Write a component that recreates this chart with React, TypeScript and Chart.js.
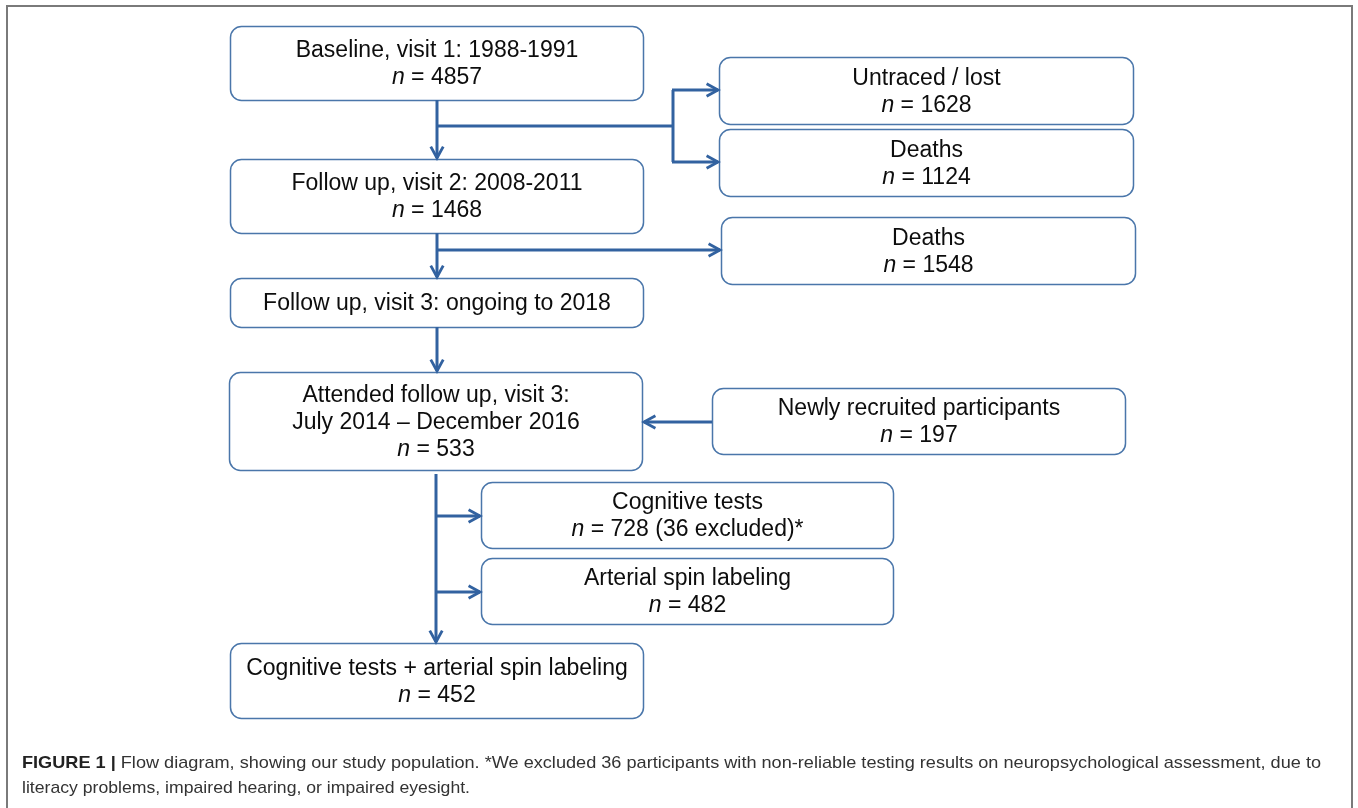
import React, { useEffect, useRef } from "react";
import { Chart, registerables } from "chart.js";

Chart.register(...registerables);

// ---- content (data) ----
const boxTitles: string[][] = [
  ["Baseline, visit 1: 1988-1991"],
  ["Follow up, visit 2: 2008-2011"],
  ["Untraced / lost"],
  ["Deaths"],
  ["Deaths"],
  ["Follow up, visit 3: ongoing to 2018"],
  ["Attended follow up, visit 3:", "July 2014 \u2013 December 2016"],
  ["Newly recruited participants"],
  ["Cognitive tests"],
  ["Arterial spin labeling"],
  ["Cognitive tests + arterial spin labeling"],
];
const boxCounts: (string | null)[] = [
  "4857", "1468", "1628", "1124", "1548", null, "533", "197", "728 (36 excluded)*", "482", "452",
];
const captionBold = "FIGURE 1 |";
const captionLine1 =
  " Flow diagram, showing our study population. *We excluded 36 participants with non-reliable testing results on neuropsychological assessment, due to";
const captionLine2 = "literacy problems, impaired hearing, or impaired eyesight.";

// ---- layout (positions in chart units = px) ----
const boxX0 = [230, 230, 719, 719, 721, 230, 229, 712, 481, 481, 230];
const boxX1 = [643, 643, 1133, 1133, 1135, 643, 642, 1125, 893, 893, 643];
const boxY0 = [26, 159, 57, 129, 217, 278, 372, 388, 482, 558, 643];
const boxY1 = [100, 233, 124, 196, 284, 327, 470, 454, 548, 624, 718];

// connectors: [x, y] pairs; arrow = arrowhead at last point
const connectors: { pts: number[][]; arrow: boolean }[] = [
  { pts: [[437, 100], [437, 158]], arrow: true },
  { pts: [[437, 126], [673, 126]], arrow: false },
  { pts: [[673, 90], [673, 162]], arrow: false },
  { pts: [[672, 90], [718, 90]], arrow: true },
  { pts: [[672, 162], [718, 162]], arrow: true },
  { pts: [[437, 233], [437, 277]], arrow: true },
  { pts: [[437, 250], [720, 250]], arrow: true },
  { pts: [[437, 327], [437, 371]], arrow: true },
  { pts: [[712, 422], [644, 422]], arrow: true },
  { pts: [[436, 474], [436, 642]], arrow: true },
  { pts: [[436, 516], [480, 516]], arrow: true },
  { pts: [[436, 592], [480, 592]], arrow: true },
];

const W = 1358;
const H = 808;
const FONT = '"Liberation Sans", Arial, Helvetica, sans-serif';
const BOX_COLOR = "#4a76aa";
const LINE_COLOR = "#3262a0";

function roundRect(ctx: CanvasRenderingContext2D, x0: number, y0: number, x1: number, y1: number, r: number) {
  ctx.beginPath();
  ctx.moveTo(x0 + r, y0);
  ctx.lineTo(x1 - r, y0);
  ctx.arcTo(x1, y0, x1, y0 + r, r);
  ctx.lineTo(x1, y1 - r);
  ctx.arcTo(x1, y1, x1 - r, y1, r);
  ctx.lineTo(x0 + r, y1);
  ctx.arcTo(x0, y1, x0, y1 - r, r);
  ctx.lineTo(x0, y0 + r);
  ctx.arcTo(x0, y0, x0 + r, y0, r);
  ctx.closePath();
}

const flowPlugin = {
  id: "flow",
  afterDatasetsDraw(chart: any) {
    const ctx: CanvasRenderingContext2D = chart.ctx;
    const xs = chart.scales.x;
    const ys = chart.scales.y;
    const px = (v: number) => xs.getPixelForValue(v);
    const py = (v: number) => ys.getPixelForValue(v);
    ctx.save();

    // outer frame
    ctx.strokeStyle = "#7a7a7a";
    ctx.lineWidth = 2;
    ctx.strokeRect(px(7), py(6), px(1352) - px(7), py(840) - py(6));

    // boxes
    for (let i = 0; i < boxTitles.length; i++) {
      const x0 = px(boxX0[i]) + 0.5, x1 = px(boxX1[i]) + 0.5;
      const y0 = py(boxY0[i]) + 0.5, y1 = py(boxY1[i]) + 0.5;
      roundRect(ctx, x0, y0, x1, y1, 11);
      ctx.fillStyle = "#ffffff";
      ctx.fill();
      ctx.strokeStyle = BOX_COLOR;
      ctx.lineWidth = 1.5;
      ctx.stroke();

      const lines: { t: string; n: boolean }[] = boxTitles[i].map((t) => ({ t, n: false }));
      if (boxCounts[i] !== null) lines.push({ t: " = " + boxCounts[i], n: true });
      const lh = 27;
      const cx = (x0 + x1) / 2;
      const cy = (y0 + y1) / 2;
      const top = cy - ((lines.length - 1) * lh) / 2;
      ctx.fillStyle = "#0d0d0d";
      ctx.textBaseline = "middle";
      lines.forEach((ln, k) => {
        const y = top + k * lh + 1;
        if (!ln.n) {
          ctx.font = `23px ${FONT}`;
          ctx.textAlign = "center";
          ctx.fillText(ln.t, cx, y);
        } else {
          ctx.font = `italic 23px ${FONT}`;
          const wn = ctx.measureText("n").width;
          ctx.font = `23px ${FONT}`;
          const wr = ctx.measureText(ln.t).width;
          const sx = cx - (wn + wr) / 2;
          ctx.textAlign = "left";
          ctx.font = `italic 23px ${FONT}`;
          ctx.fillText("n", sx, y);
          ctx.font = `23px ${FONT}`;
          ctx.fillText(ln.t, sx + wn, y);
        }
      });
    }

    // connectors
    ctx.strokeStyle = LINE_COLOR;
    ctx.lineCap = "butt";
    connectors.forEach((c) => {
      ctx.lineWidth = 3;
      ctx.beginPath();
      c.pts.forEach((p, k) => {
        const X = px(p[0]), Y = py(p[1]);
        if (k === 0) ctx.moveTo(X, Y);
        else ctx.lineTo(X, Y);
      });
      ctx.stroke();
      if (c.arrow) {
        const a = c.pts[c.pts.length - 2], b = c.pts[c.pts.length - 1];
        const X0 = px(a[0]), Y0 = py(a[1]), X1 = px(b[0]), Y1 = py(b[1]);
        const ang = Math.atan2(Y1 - Y0, X1 - X0);
        const len = 13, spread = 0.5;
        ctx.lineWidth = 2.8;
        ctx.lineJoin = "miter";
        ctx.beginPath();
        ctx.moveTo(X1 - len * Math.cos(ang - spread), Y1 - len * Math.sin(ang - spread));
        ctx.lineTo(X1, Y1);
        ctx.lineTo(X1 - len * Math.cos(ang + spread), Y1 - len * Math.sin(ang + spread));
        ctx.stroke();
      }
    });

    // caption (slightly condensed to match the narrow caption face)
    const size = 17;
    ctx.textAlign = "left";
    ctx.textBaseline = "middle";
    ctx.font = `bold ${size}px ${FONT}`;
    const wb = ctx.measureText(captionBold).width;
    ctx.font = `${size}px ${FONT}`;
    const w1 = ctx.measureText(captionLine1).width;
    const sx1 = (1321 - 22) / (wb + w1);
    const w2 = ctx.measureText(captionLine2).width;
    const sx2 = Math.min(sx1, (470 - 22) / w2);

    ctx.save();
    ctx.translate(px(22), py(763));
    ctx.scale(sx1, 1);
    ctx.font = `bold ${size}px ${FONT}`;
    ctx.fillStyle = "#222222";
    ctx.fillText(captionBold, 0, 0);
    ctx.font = `${size}px ${FONT}`;
    ctx.fillStyle = "#333333";
    ctx.fillText(captionLine1, wb, 0);
    ctx.restore();

    ctx.save();
    ctx.translate(px(22), py(788));
    ctx.scale(sx2, 1);
    ctx.font = `${size}px ${FONT}`;
    ctx.fillStyle = "#333333";
    ctx.fillText(captionLine2, 0, 0);
    ctx.restore();

    ctx.restore();
  },
};

export default function App() {
  const ref = useRef<HTMLCanvasElement | null>(null);
  useEffect(() => {
    document.body.style.margin = "0";
    const canvas = ref.current;
    if (!canvas) return;
    const centers = boxTitles.map((_, i) => ({
      x: (boxX0[i] + boxX1[i]) / 2,
      y: (boxY0[i] + boxY1[i]) / 2,
    }));
    const chart = new Chart(canvas, {
      type: "scatter",
      data: {
        datasets: [{ data: centers, pointRadius: 0, pointHoverRadius: 0 }],
      },
      options: {
        animation: false,
        responsive: false,
        devicePixelRatio: 1,
        layout: { padding: 0 },
        plugins: { legend: { display: false }, tooltip: { enabled: false } },
        events: [],
        scales: {
          x: { type: "linear", min: 0, max: W, display: false },
          y: { type: "linear", min: 0, max: H, reverse: true, display: false },
        },
      },
      plugins: [flowPlugin],
    });
    return () => chart.destroy();
  }, []);
  return (
    <div style={{ width: W, height: H, background: "#fff" }}>
      <canvas ref={ref} width={W} height={H} style={{ display: "block" }} />
    </div>
  );
}
